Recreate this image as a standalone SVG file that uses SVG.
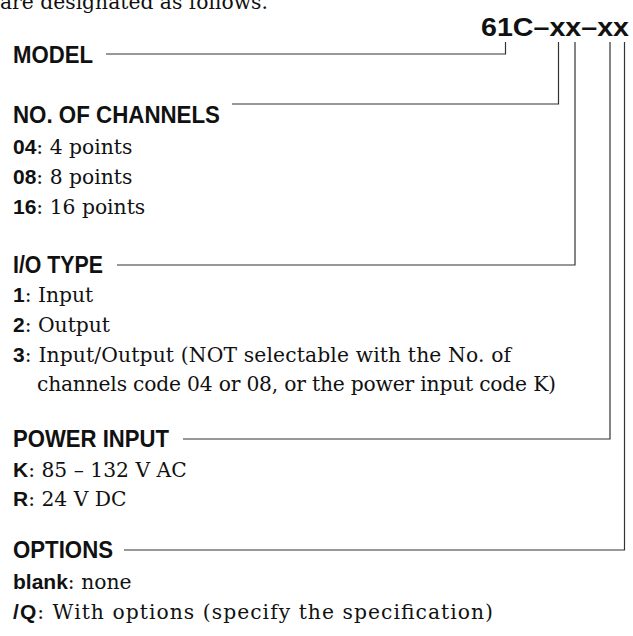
<svg xmlns="http://www.w3.org/2000/svg" width="633" height="636" viewBox="0 0 633 636">
<style>
.h{font-family:"Liberation Sans",Arial,Helvetica,sans-serif;font-weight:bold;font-size:23px;fill:#111}
.t{font-family:"DejaVu Serif","Liberation Serif",serif;font-size:20.3px;fill:#111}
.b{font-family:"Liberation Sans",Arial,Helvetica,sans-serif;font-weight:bold;font-size:21px}
.code{font-family:"Liberation Sans",Arial,Helvetica,sans-serif;font-weight:bold;font-size:26px;fill:#111}
.c{fill:none;stroke:#333;stroke-width:1.2}
</style>
<rect width="633" height="636" fill="#fff"/>
<text class="t" x="0" y="9">are designated as follows.</text>
<g id="code">
<text class="code" x="481" y="36" textLength="148" lengthAdjust="spacingAndGlyphs">61C–xx–xx</text>
</g>
<g id="connectors">
<path class="c" d="M106 54H505.5V42"/>
<path class="c" d="M232 104H558.5V42"/>
<path class="c" d="M117 265H575V42"/>
<path class="c" d="M183 439H610V42"/>
<path class="c" d="M124 550H624.5V42"/>
</g>
<g id="model">
<text class="h" x="13" y="63" textLength="80" lengthAdjust="spacingAndGlyphs">MODEL</text>
</g>
<g id="channels">
<text class="h" x="13" y="123" textLength="207" lengthAdjust="spacingAndGlyphs">NO. OF CHANNELS</text>
<text class="t" x="13" y="154"><tspan class="b">04</tspan>: 4 points</text>
<text class="t" x="13" y="184"><tspan class="b">08</tspan>: 8 points</text>
<text class="t" x="13" y="214"><tspan class="b">16</tspan>: 16 points</text>
</g>
<g id="iotype">
<text class="h" x="13" y="273" textLength="90" lengthAdjust="spacingAndGlyphs">I/O TYPE</text>
<text class="t" x="13" y="302"><tspan class="b">1</tspan>: Input</text>
<text class="t" x="13" y="332"><tspan class="b">2</tspan>: Output</text>
<text class="t" x="13" y="362" textLength="498" lengthAdjust="spacing"><tspan class="b">3</tspan>: Input/Output (NOT selectable with the No. of</text>
<text class="t" x="37" y="391" textLength="519" lengthAdjust="spacing">channels code 04 or 08, or the power input code K)</text>
</g>
<g id="power">
<text class="h" x="13" y="447" textLength="156" lengthAdjust="spacingAndGlyphs">POWER INPUT</text>
<text class="t" x="13" y="477"><tspan class="b">K</tspan>: 85 – 132 V AC</text>
<text class="t" x="13" y="506"><tspan class="b">R</tspan>: 24 V DC</text>
</g>
<g id="options">
<text class="h" x="13" y="558" textLength="100" lengthAdjust="spacingAndGlyphs">OPTIONS</text>
<text class="t" x="13" y="589"><tspan class="b">blank</tspan>: none</text>
<text class="t" x="13" y="619" textLength="480" lengthAdjust="spacing"><tspan class="b">/Q</tspan>: With options (specify the specification)</text>
</g>
</svg>
